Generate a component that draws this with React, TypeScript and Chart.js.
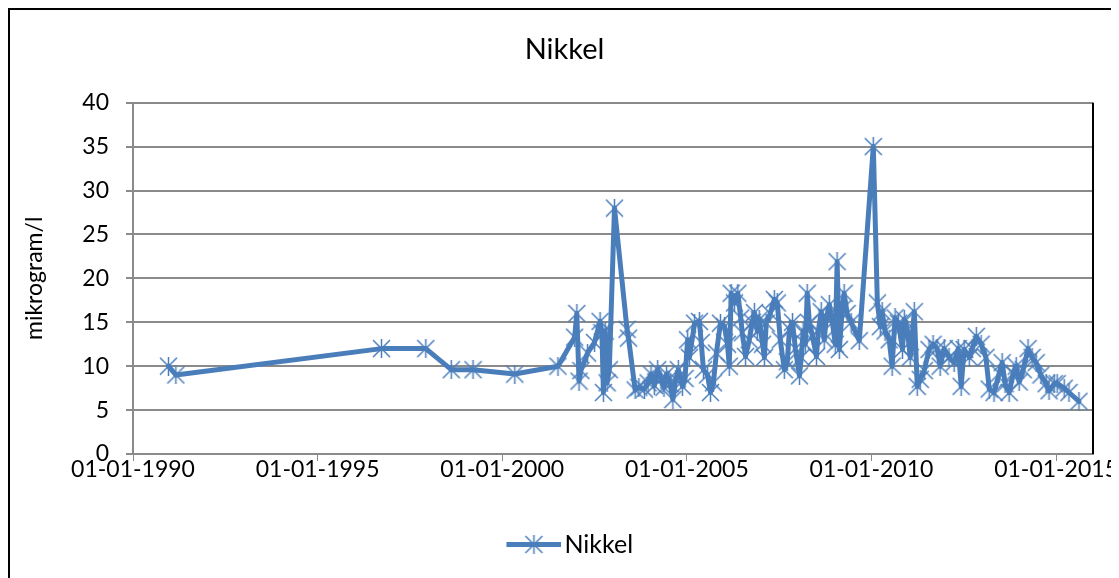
import React, { useEffect, useRef } from 'react';
import { Chart, registerables } from 'chart.js';

Chart.register(...registerables);

const CHART_TITLE = 'Nikkel';
const SERIES_LABEL = 'Nikkel';
const Y_TITLE = 'mikrogram/l';
const X_MIN_YEAR = 1990;
const X_MAX_YEAR = 2016;
const X_TICK_YEARS = [1990, 1995, 2000, 2005, 2010, 2015];
const Y_MIN = 0;
const Y_MAX = 40;
const Y_STEP = 5;

// sample dates as decimal years
const sampleYears = [
  1990.96, 1991.16, 1996.73, 1997.93, 1998.62, 1999.21, 2000.34, 2001.51, 2001.96, 2002.02,
  2002.08, 2002.13, 2002.31, 2002.5, 2002.65, 2002.7, 2002.74, 2002.79, 2002.84, 2002.9,
  2003.04, 2003.38, 2003.42, 2003.6, 2003.7, 2003.85, 2003.95, 2004.03, 2004.12, 2004.21,
  2004.3, 2004.38, 2004.45, 2004.55, 2004.62, 2004.7, 2004.77, 2004.88, 2004.95, 2005.02,
  2005.07, 2005.21, 2005.34, 2005.39, 2005.45, 2005.56, 2005.64, 2005.72, 2005.8, 2005.91,
  2006.02, 2006.1, 2006.15, 2006.2, 2006.29, 2006.38, 2006.46, 2006.5, 2006.59, 2006.69,
  2006.77, 2006.83, 2006.91, 2006.96, 2007.05, 2007.1, 2007.15, 2007.26, 2007.37, 2007.45,
  2007.53, 2007.64, 2007.72, 2007.78, 2007.86, 2007.94, 2008.05, 2008.1, 2008.15, 2008.21,
  2008.26, 2008.32, 2008.4, 2008.51, 2008.56, 2008.64, 2008.72, 2008.78, 2008.86, 2008.94,
  2009.02, 2009.07, 2009.13, 2009.21, 2009.26, 2009.34, 2009.45, 2009.67, 2010.05, 2010.16,
  2010.24, 2010.29, 2010.37, 2010.48, 2010.56, 2010.64, 2010.73, 2010.84, 2010.89, 2010.97,
  2011.05, 2011.16, 2011.24, 2011.32, 2011.43, 2011.56, 2011.67, 2011.78, 2011.86, 2011.97,
  2012.1, 2012.24, 2012.35, 2012.43, 2012.51, 2012.65, 2012.73, 2012.84, 2012.97, 2013.1,
  2013.19, 2013.32, 2013.46, 2013.54, 2013.62, 2013.73, 2013.84, 2013.92, 2014.0, 2014.11,
  2014.24, 2014.35, 2014.46, 2014.59, 2014.73, 2014.81, 2014.95, 2015.03, 2015.22, 2015.35,
  2015.62,
];

const nikkelValues = [
  10, 9, 12, 12, 9.6, 9.6, 9.1, 10, 13.3, 16,
  8.3, 9.5, 11.5, 12.7, 15.1, 13.8, 7.0, 14.0, 8.1, 9.6,
  28, 14.2, 13.2, 7.3, 7.6, 7.4, 8.1, 9.1, 7.8, 9.6,
  8.5, 7.6, 9.1, 8.0, 6.2, 8.5, 9.6, 7.7, 8.6, 13.0,
  11.0, 14.9, 15.1, 12.7, 9.6, 9.0, 7.0, 8.1, 11.5, 14.9,
  14.5, 12.5, 10.0, 18.3, 17.2, 18.3, 15.5, 13.8, 11.1, 13.0,
  15.0, 16.1, 14.0, 15.3, 12.5, 11.0, 14.9, 16.0, 17.6, 17.2,
  13.0, 9.6, 10.5, 14.2, 15.0, 12.0, 8.9, 11.0, 14.0, 12.5,
  18.3, 14.9, 13.5, 11.1, 14.0, 16.2, 13.0, 15.5, 17.0, 15.0,
  12.5, 21.9, 11.9, 16.5, 18.3, 16.0, 15.0, 12.9, 35, 17.2,
  14.5, 16.2, 14.0, 13.0, 10.0, 15.5, 14.9, 11.9, 15.3, 14.2,
  11.0, 16.2, 7.7, 8.5, 9.5, 11.9, 12.5, 12.0, 10.0, 12.0,
  11.0, 10.4, 12.0, 7.7, 11.9, 11.0, 12.0, 13.4, 12.5, 11.0,
  7.4, 7.0, 9.2, 10.4, 8.0, 7.0, 9.2, 10.0, 8.2, 9.6,
  12.0, 11.0, 10.4, 9.0, 8.0, 7.2, 8.0, 8.0, 7.5, 7.0,
  6.0,
];

const LINE_COLOR = '#4A7EBB';
const GRID_COLOR = '#8A8A8A';
const FONT = 'Lato';

function makeStar(size: number, color: string, lw: number): HTMLCanvasElement {
  const c = document.createElement('canvas');
  c.width = size;
  c.height = size;
  const ctx = c.getContext('2d')!;
  ctx.strokeStyle = color;
  ctx.lineWidth = lw;
  const m = 1;
  ctx.beginPath();
  ctx.moveTo(m, m);
  ctx.lineTo(size - m, size - m);
  ctx.moveTo(size - m, m);
  ctx.lineTo(m, size - m);
  ctx.moveTo(size / 2, 0);
  ctx.lineTo(size / 2, size);
  ctx.stroke();
  return c;
}

// legend symbol: blank area on the left, then a line segment with a star marker
function makeLegendSymbol(w: number, lineStart: number, size: number, color: string): HTMLCanvasElement {
  const c = document.createElement('canvas');
  c.width = w;
  c.height = size;
  const ctx = c.getContext('2d')!;
  ctx.fillStyle = color;
  ctx.fillRect(lineStart, size / 2 - 2.5, w - lineStart, 5);
  const star = makeStar(size, color, 1.5);
  const mid = (lineStart + w) / 2;
  ctx.drawImage(star, Math.round(mid - size / 2), 0);
  return c;
}

export default function App() {
  const ref = useRef<HTMLCanvasElement | null>(null);

  useEffect(() => {
    if (!ref.current) return;
    const marker = makeStar(19, LINE_COLOR, 1.5);
    const legendSymbol = makeLegendSymbol(75, 20, 19, LINE_COLOR);
    const points = sampleYears.map((x, i) => ({ x, y: nikkelValues[i] }));

    const rightBorder = {
      id: 'rightBorder',
      beforeDatasetsDraw(chart: any) {
        const { ctx, chartArea } = chart;
        ctx.save();
        ctx.strokeStyle = '#000';
        ctx.lineWidth = 2;
        ctx.beginPath();
        ctx.moveTo(chartArea.right, chartArea.top);
        ctx.lineTo(chartArea.right, chartArea.bottom);
        ctx.stroke();
        ctx.restore();
      },
    };

    const chart = new Chart(ref.current, {
      type: 'line',
      data: {
        datasets: [
          {
            label: SERIES_LABEL,
            data: points,
            borderColor: LINE_COLOR,
            backgroundColor: LINE_COLOR,
            borderWidth: 5,
            borderJoinStyle: 'round',
            borderCapStyle: 'round',
            tension: 0,
            pointStyle: marker as any,
            pointRadius: 5,
            fill: false,
          },
        ],
      },
      options: {
        responsive: false,
        animation: false,
        layout: { padding: { left: 0, right: 0, top: 0, bottom: 11 } },
        plugins: {
          title: {
            display: true,
            text: CHART_TITLE,
            color: '#000',
            font: { family: FONT, size: 29, weight: 'normal' },
            padding: { top: 22.6, bottom: 35.3 },
          },
          legend: {
            display: true,
            position: 'bottom',
            labels: {
              color: '#000',
              font: { family: FONT, size: 25 },
              usePointStyle: true,
              pointStyleWidth: 56,
              padding: 10,
              generateLabels: () => [
                {
                  text: SERIES_LABEL,
                  pointStyle: legendSymbol as any,
                  fillStyle: LINE_COLOR,
                  strokeStyle: LINE_COLOR,
                  lineWidth: 0,
                  hidden: false,
                  datasetIndex: 0,
                },
              ],
            },
          },
          tooltip: { enabled: false },
        },
        scales: {
          x: {
            type: 'linear',
            min: X_MIN_YEAR,
            max: X_MAX_YEAR,
            afterBuildTicks: (scale: any) => {
              scale.ticks = X_TICK_YEARS.map((v) => ({ value: v }));
            },
            afterFit: (scale: any) => {
              scale.height = 68;
            },
            ticks: {
              autoSkip: false,
              maxRotation: 0,
              padding: -5,
              color: '#000',
              font: { family: FONT, size: 23 },
              callback: (v: any) => `01-01-${v}`,
            },
            grid: {
              drawOnChartArea: false,
              drawTicks: true,
              tickLength: 7,
              color: GRID_COLOR,
              lineWidth: 1,
            },
            border: { color: GRID_COLOR, width: 2 },
          },
          y: {
            min: Y_MIN,
            max: Y_MAX,
            afterFit: (scale: any) => {
              scale.width = 123;
            },
            ticks: {
              stepSize: Y_STEP,
              padding: 17,
              color: '#000',
              font: { family: FONT, size: 23 },
            },
            grid: {
              color: GRID_COLOR,
              lineWidth: 2,
              tickLength: 7,
              drawTicks: true,
            },
            border: { color: GRID_COLOR, width: 2 },
            title: {
              display: true,
              text: Y_TITLE,
              color: '#000',
              font: { family: FONT, size: 23 },
              padding: { top: 11, bottom: 0 },
            },
          },
          // empty spacer on the right of the plot area
          yRight: {
            position: 'right',
            display: true,
            afterFit: (scale: any) => {
              scale.width = 26;
            },
            ticks: { display: false },
            grid: { display: false },
            border: { display: false },
          },
        },
      },
      plugins: [rightBorder],
    } as any);

    return () => chart.destroy();
  }, []);

  return (
    <div
      style={{
        width: 1111,
        height: 570,
        borderTop: '2px solid #000',
        borderLeft: '2px solid #000',
        boxSizing: 'border-box',
        background: '#fff',
      }}
    >
      <canvas ref={ref} width={1109} height={568} style={{ display: 'block' }} />
    </div>
  );
}
